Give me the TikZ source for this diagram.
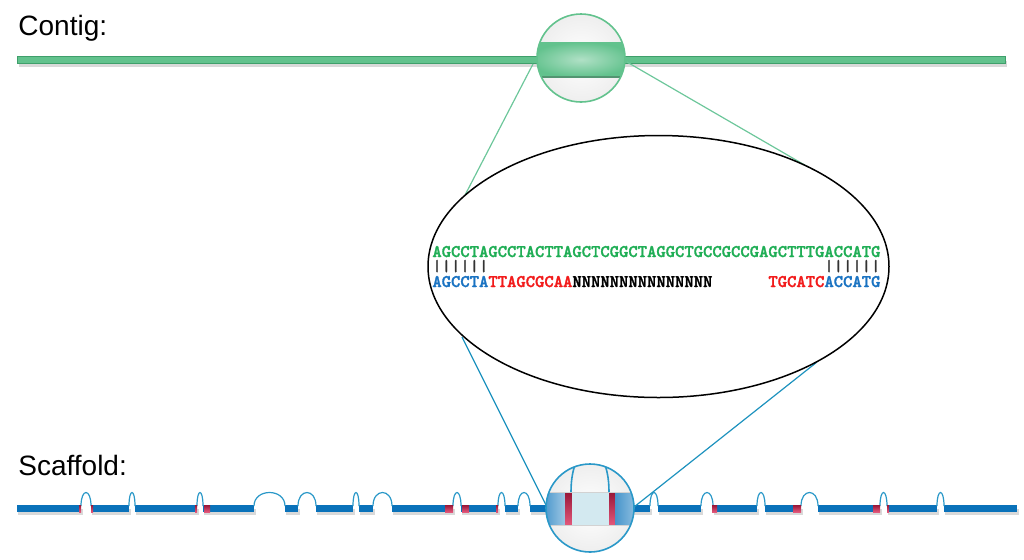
\documentclass[tikz,border=0pt]{standalone}
\usepackage{fontspec}
\setmainfont{Liberation Sans}
\newfontfamily\seqfont{lmmonolt10-bold.otf}[FakeBold=1.6]
\usepackage{xcolor}
\usetikzlibrary{shapes.geometric, positioning, calc}
\definecolor{contiggreen}{HTML}{62C28D}
\definecolor{contigedge}{HTML}{3F9F6B}
\definecolor{scafblue}{HTML}{0A72BA}
\definecolor{archblue}{HTML}{2A98C8}
\definecolor{gapred}{HTML}{D9204F}
\definecolor{seqgreen}{HTML}{1FAE55}
\definecolor{seqblue}{HTML}{1A73C2}
\definecolor{seqred}{HTML}{F21B1B}
\definecolor{linkgreen}{HTML}{6DC79B}
\definecolor{linkblue}{HTML}{1D92BE}
\definecolor{bandlight}{HTML}{D3E9F0}
% one match bar, one character cell wide
\newcommand{\matchbar}{\makebox[4.667pt]{\fontsize{8}{8}\selectfont|}}

\begin{document}
\begin{tikzpicture}[
		x=0.5pt, y=-0.5pt,
		contig bar/.style={fill=contiggreen, draw=contigedge, line width=0.4pt},
		scaffold bar/.style={fill=scafblue},
		bar shadow/.style={fill=black, opacity=0.15},
		arch/.style={draw=archblue, line width=0.6pt},
		gap mark/.style={top color=gapred!70!black, bottom color=gapred!75!white},
		link/.style={line width=0.6pt},
		lens/.style={circle, minimum size=44pt, inner sep=0pt, line width=0.8pt},
		% Style for the sequence lines
		seq/.style={font=\seqfont\fontsize{8.89}{10}\selectfont, inner sep=0pt, anchor=base west},
		label text/.style={font=\fontsize{14}{16}\selectfont, inner sep=0pt, anchor=base west}
		]
		\useasboundingbox (0,0) rectangle (1024,559);
		
		% --- Labels ---
		\node[label text] (contig_label) at (18,35) {Contig:};
		\node[label text] (scaffold_label) at (18,475) {Scaffold:};
		
		% --- Contig Bar ---
		\fill[bar shadow] (19,61) rectangle (1007,67);
		\draw[contig bar] (17,56) rectangle (1005,63);
		
		% --- Scaffold Bar: pieces, arches over the gaps, gap marks ---
		\foreach \a/\b in {17/81, 91/129, 135/197, 203/254, 285/298, 316/353, 359/373,
			392/453, 461/498, 505/518, 530/548, 632/650, 658/701, 713/757, 765/801,
			818/880, 887/937, 944/1017}{
			\fill[bar shadow] (\a+1,509) rectangle (\b+2,515);
			\fill[scaffold bar] (\a,505) rectangle (\b,512);
		}
		\foreach \a/\b in {81/91, 129/135, 197/203, 254/285, 298/316, 353/359, 373/392,
			453/461, 498/505, 518/530, 650/658, 701/713, 757/765, 801/818, 880/887, 937/944}
			\draw[arch] (\a,506) .. controls (\a,488) and (\b,488) .. (\b,506);
		\foreach \a/\b in {79/81, 91/93, 195/197, 204/210, 445/453, 462/469, 496/498,
			712/717, 793/801, 873/880, 887/889}
			\shade[gap mark] (\a,505) rectangle (\b,512);
		
		% --- Zoom Lines ---
		\coordinate (contig_tl) at (533,64);
		\coordinate (contig_tr) at (627,62);
		\coordinate (zoom_ul) at (463,199);
		\coordinate (zoom_ur) at (815,171);
		\coordinate (zoom_ll) at (462,337);
		\coordinate (zoom_lr) at (817,362);
		\coordinate (scaffold_tl) at (546,505);
		\coordinate (scaffold_tr) at (634,507);
		
		\draw[link, linkgreen] (contig_tl) -- (zoom_ul);
		\draw[link, linkgreen] (contig_tr) -- (zoom_ur);
		\draw[link, linkblue] (zoom_ll) -- (scaffold_tl);
		\draw[link, linkblue] (zoom_lr) -- (scaffold_tr);
		
		% --- Lenses (path picture coordinates are relative to the lens centre) ---
		\node[lens, draw=contiggreen, path picture={
			\shade[inner color=white, outer color=gray!18] (-60,-60) rectangle (60,60);
			\shade[inner color=contiggreen!50!white, outer color=contiggreen] (-51,-16) rectangle (51,19);
			\draw[contigedge!70!gray, line width=0.8pt] (-51,19) -- (51,19);
		}] (contig_lens) at (581,58) {};
		
		\node[lens, draw=archblue, path picture={
			\shade[inner color=white, outer color=gray!18] (-60,-60) rectangle (60,60);
			\shade[left color=scafblue!80, right color=scafblue!40!white] (-50,-16) rectangle (-25,17);
			\shade[gap mark] (-25,-16) rectangle (-18,17);
			\fill[bandlight] (-18,-16) rectangle (19,17);
			\shade[gap mark] (19,-16) rectangle (25,17);
			\shade[left color=scafblue!75, right color=scafblue!40!white] (25,-16) rectangle (50,17);
			\draw[gray!35, line width=0.3pt] (-50,-16) -- (50,-16) (-50,17) -- (50,17);
			\draw[arch, line width=0.8pt] (-19,-16) .. controls (-19,-72) and (19,-72) .. (19,-16);
		}] (scaffold_lens) at (590,508) {};
		
		% --- Zoomed Alignment ---
		\node[ellipse, draw=black, line width=0.75pt, fill=white, inner sep=0pt,
			minimum width=230.5pt, minimum height=131pt] (zoom) at (658.5,266.5) {};
		
		\node[seq] (seq_contig) at (432,257) {\textcolor{seqgreen}{AGCCTAGCCTACTTAGCTCGGCTAGGCTGCCGCCGAGCTTTGACCATG}};
		\node[seq, text=black!80] (seq_match) at (432,271) {\matchbar\matchbar\matchbar\matchbar\matchbar\matchbar\hspace{168pt}\matchbar\matchbar\matchbar\matchbar\matchbar\matchbar};
		\node[seq] (seq_scaffold) at (432,287) {\textcolor{seqblue}{AGCCTA}\textcolor{seqred}{TTAGCGCAA}NNNNNNNNNNNNNNN\phantom{NNNNNN}\textcolor{seqred}{TGCATC}\textcolor{seqblue}{ACCATG}};
		
	\end{tikzpicture}
\end{document}
